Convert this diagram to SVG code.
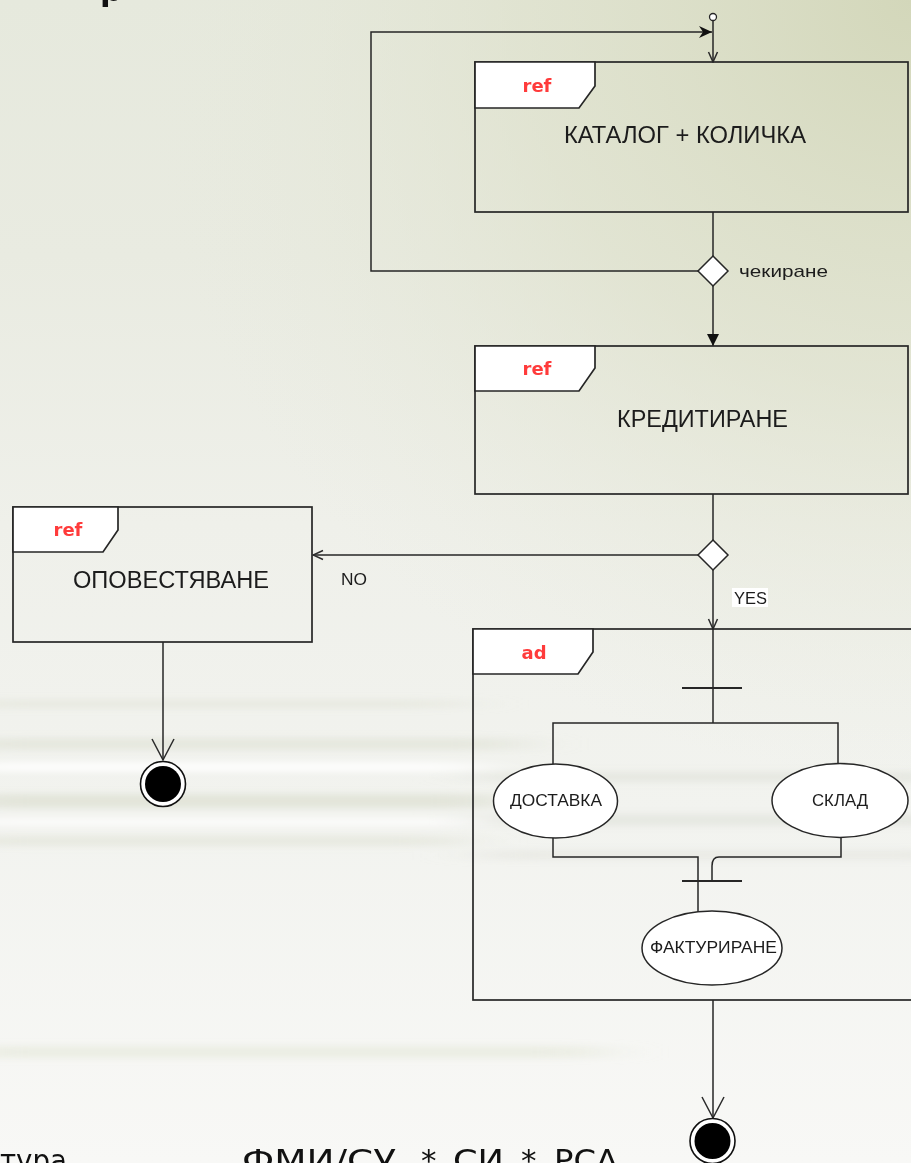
<svg xmlns="http://www.w3.org/2000/svg" width="911" height="1163" viewBox="0 0 911 1163">
  <defs>
    <linearGradient id="bgBase" x1="0" y1="0" x2="0" y2="1">
      <stop offset="0" stop-color="#e6e9dd"/>
      <stop offset="0.22" stop-color="#e9ebe1"/>
      <stop offset="0.45" stop-color="#eff0ea"/>
      <stop offset="0.7" stop-color="#f2f3ef"/>
      <stop offset="1" stop-color="#f8f8f6"/>
    </linearGradient>
    <radialGradient id="bgCorner" cx="911" cy="0" r="780" gradientUnits="userSpaceOnUse">
      <stop offset="0" stop-color="#d3d7ba" stop-opacity="1"/>
      <stop offset="0.5" stop-color="#dde0ca" stop-opacity="0.65"/>
      <stop offset="1" stop-color="#e8eadd" stop-opacity="0"/>
    </radialGradient>
    <filter id="streak" x="-20%" y="-200%" width="140%" height="500%">
      <feGaussianBlur stdDeviation="30 3"/>
    </filter>
    <marker id="vee" viewBox="0 0 12 12" refX="11" refY="6" markerWidth="12" markerHeight="12" markerUnits="userSpaceOnUse" orient="auto">
      <path d="M1,1.5 L11,6 L1,10.5" fill="none" stroke="#2a2a2a" stroke-width="1.5"/>
    </marker>
    <marker id="veeLg" viewBox="0 0 24 24" refX="22" refY="12" markerWidth="24" markerHeight="24" markerUnits="userSpaceOnUse" orient="auto">
      <path d="M1,1 L22,12 L1,23" fill="none" stroke="#2a2a2a" stroke-width="1.5"/>
    </marker>
    <marker id="tri" viewBox="0 0 12 12" refX="12" refY="6" markerWidth="12" markerHeight="12" markerUnits="userSpaceOnUse" orient="auto">
      <path d="M0,0 L12,6 L0,12 z" fill="#111"/>
    </marker>
    <marker id="notch" viewBox="0 0 14 14" refX="13" refY="7" markerWidth="14" markerHeight="14" markerUnits="userSpaceOnUse" orient="auto">
      <path d="M0,1 L13,7 L0,13 L4,7 z" fill="#111"/>
    </marker>
  </defs>
  <style>
    .frame{fill:none;stroke:#262626;stroke-width:1.7}
    .tab{fill:#fff;stroke:#262626;stroke-width:1.7;stroke-linejoin:miter}
    .tag{font-family:"DejaVu Sans",Verdana,sans-serif;font-weight:bold;font-size:18px;fill:#ff3b3b;text-anchor:middle}
    .title{font-family:"Liberation Sans",Arial,sans-serif;font-size:23px;fill:#1c1c1c}
    .small{font-family:"Liberation Sans",Arial,sans-serif;font-size:17px;fill:#1c1c1c}
    .act{fill:#fff;stroke:#262626;stroke-width:1.5}
    .edge{fill:none;stroke:#262626;stroke-width:1.5}
    .bar{fill:none;stroke:#262626;stroke-width:2}
    .decision{fill:#fff;stroke:#262626;stroke-width:1.5}
    .slide{font-family:"DejaVu Sans",Verdana,sans-serif;font-size:31px;fill:#111}
  </style>

  <!-- backdrop -->
  <g id="backdrop">
    <rect x="0" y="0" width="911" height="1163" fill="url(#bgBase)"/>
    <rect x="0" y="0" width="911" height="1163" fill="url(#bgCorner)"/>
    <g filter="url(#streak)">
      <rect x="-40" y="700" width="500" height="8" fill="#e2e5d8" opacity="0.6"/>
      <rect x="-40" y="738" width="560" height="12" fill="#dde0d2" opacity="0.55"/>
      <rect x="-40" y="762" width="520" height="10" fill="#ffffff" opacity="0.8"/>
      <rect x="-40" y="794" width="540" height="14" fill="#d9dccd" opacity="0.6"/>
      <rect x="-40" y="818" width="520" height="8" fill="#ffffff" opacity="0.7"/>
      <rect x="-40" y="836" width="500" height="10" fill="#dddfd2" opacity="0.5"/>
      <rect x="480" y="772" width="480" height="10" fill="#dcded5" opacity="0.5"/>
      <rect x="480" y="814" width="480" height="12" fill="#d9dbd2" opacity="0.45"/>
      <rect x="480" y="850" width="480" height="10" fill="#dfe1d9" opacity="0.45"/>
      <rect x="-40" y="1046" width="640" height="12" fill="#e4e8d8" opacity="0.6"/>
    </g>
  </g>

  <!-- slide text cut off by the page edges -->
  <g id="slide-text">
    <text class="slide" x="100" y="1" font-weight="bold" font-size="40px" fill="#000">р</text>
    <text class="slide" x="0" y="1171" textLength="67" lengthAdjust="spacingAndGlyphs">тура</text>
    <text class="slide" y="1171"><tspan x="242" textLength="154" lengthAdjust="spacingAndGlyphs">ФМИ/СУ</tspan><tspan x="421">*</tspan><tspan x="453" textLength="51" lengthAdjust="spacingAndGlyphs">СИ</tspan><tspan x="521">*</tspan><tspan x="554" textLength="64" lengthAdjust="spacingAndGlyphs">РСА</tspan></text>
  </g>

  <!-- connectors -->
  <g id="connectors">
    <line class="edge" x1="713" y1="20.5" x2="713" y2="62" marker-end="url(#vee)"/>
    <polyline class="edge" points="698,271 371,271 371,32 712,32" marker-end="url(#notch)"/>
    <line class="edge" x1="713" y1="212" x2="713" y2="256"/>
    <line class="edge" x1="713" y1="286" x2="713" y2="346" marker-end="url(#tri)"/>
    <line class="edge" x1="713" y1="494" x2="713" y2="540"/>
    <line class="edge" x1="698" y1="555" x2="313" y2="555" marker-end="url(#vee)"/>
    <line class="edge" x1="713" y1="570" x2="713" y2="629" marker-end="url(#vee)"/>
    <line class="edge" x1="163" y1="642" x2="163" y2="760" marker-end="url(#veeLg)"/>
    <line class="edge" x1="713" y1="1000" x2="713" y2="1118" marker-end="url(#veeLg)"/>
    <!-- inner flow of the ad frame -->
    <line class="edge" x1="713" y1="629" x2="713" y2="723"/>
    <polyline class="edge" points="553,764 553,723 838,723 838,763"/>
    <polyline class="edge" points="553,838 553,857 698,857 698,912"/>
    <path class="edge" d="M841,838 V857 H719 Q712,857 712,866 V881"/>
  </g>

  <!-- start -->
  <g id="start">
    <circle cx="713" cy="17" r="3.5" fill="#fff" stroke="#262626" stroke-width="1.3"/>
  </g>

  <!-- ref: catalogue + cart -->
  <g id="ref-katalog">
    <rect class="frame" x="475" y="62" width="433" height="150"/>
    <path class="tab" d="M475,62 H595 V86 L579,108 H475 Z"/>
    <text class="tag" x="537" y="92">ref</text>
    <text class="title" x="564" y="143" textLength="242" lengthAdjust="spacingAndGlyphs">КАТАЛОГ + КОЛИЧКА</text>
  </g>

  <!-- decision: checkout -->
  <g id="decision-check">
    <polygon class="decision" points="713,256 728,271 713,286 698,271"/>
    <text class="small" x="739" y="277" font-size="20px" textLength="89" lengthAdjust="spacingAndGlyphs">чекиране</text>
  </g>

  <!-- ref: crediting -->
  <g id="ref-kredit">
    <rect class="frame" x="475" y="346" width="433" height="148"/>
    <path class="tab" d="M475,346 H595 V368 L579,391 H475 Z"/>
    <text class="tag" x="537" y="375">ref</text>
    <text class="title" x="617" y="427" textLength="171" lengthAdjust="spacingAndGlyphs">КРЕДИТИРАНЕ</text>
  </g>

  <!-- decision: approved? -->
  <g id="decision-credit">
    <polygon class="decision" points="713,540 728,555 713,570 698,555"/>
    <text class="small" x="341" y="585" textLength="26" lengthAdjust="spacingAndGlyphs">NO</text>
    <rect x="732" y="588" width="36" height="19" fill="#fff"/>
    <text class="small" x="734" y="604" font-size="16.5px" textLength="33" lengthAdjust="spacingAndGlyphs">YES</text>
  </g>

  <!-- ref: notification -->
  <g id="ref-notify">
    <rect class="frame" x="13" y="507" width="299" height="135"/>
    <path class="tab" d="M13,507 H118 V530 L103,552 H13 Z"/>
    <text class="tag" x="68" y="536">ref</text>
    <text class="title" x="73" y="588" textLength="196" lengthAdjust="spacingAndGlyphs">ОПОВЕСТЯВАНЕ</text>
  </g>

  <!-- final node after notification -->
  <g id="end-notify">
    <circle cx="163" cy="784" r="22.5" fill="#fff" stroke="#111" stroke-width="1.6"/>
    <circle cx="163" cy="784" r="18" fill="#000"/>
  </g>

  <!-- ad: fulfilment -->
  <g id="ad-fulfil">
    <rect class="frame" x="473" y="629" width="460" height="371"/>
    <path class="tab" d="M473,629 H593 V652 L578,674 H473 Z"/>
    <text class="tag" x="534" y="659">ad</text>
  </g>

  <g id="fork">
    <line class="bar" x1="682" y1="688" x2="742" y2="688"/>
  </g>

  <g id="act-delivery">
    <ellipse class="act" cx="555.5" cy="801" rx="62" ry="37"/>
    <text class="small" x="510" y="806" textLength="92" lengthAdjust="spacingAndGlyphs">ДОСТАВКА</text>
  </g>

  <g id="act-stock">
    <ellipse class="act" cx="840" cy="800.5" rx="68" ry="37"/>
    <text class="small" x="812" y="806" textLength="56" lengthAdjust="spacingAndGlyphs">СКЛАД</text>
  </g>

  <g id="join">
    <line class="bar" x1="682" y1="881" x2="742" y2="881"/>
  </g>

  <g id="act-invoice">
    <ellipse class="act" cx="712" cy="948" rx="70" ry="37"/>
    <text class="small" x="650" y="953" textLength="127" lengthAdjust="spacingAndGlyphs">ФАКТУРИРАНЕ</text>
  </g>

  <!-- final node after fulfilment -->
  <g id="end-fulfil">
    <circle cx="712.5" cy="1141" r="22.5" fill="#fff" stroke="#111" stroke-width="1.6"/>
    <circle cx="712.5" cy="1141" r="18" fill="#000"/>
  </g>
</svg>
